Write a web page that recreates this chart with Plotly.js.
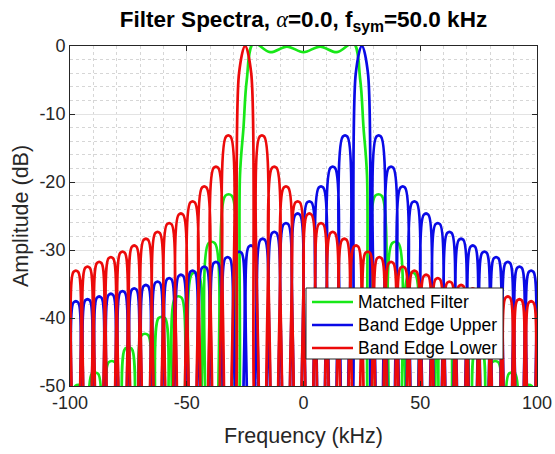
<!DOCTYPE html>
<html><head><meta charset="utf-8">
<script src="https://cdn.plot.ly/plotly-3.0.1.min.js"></script>
<style>html,body{margin:0;padding:0;background:#fff}#chart{width:555px;height:454px}</style>
</head><body><div id="chart"></div>
<script>
// ---- data (frequency in kHz, amplitude in dB) ----
// Band Edge Lower: side-lobe peaks, main-lobe outline, and where the curve drops below the -50 dB floor
const lowerLobeFreqs = [-97.5,-92.5,-87.5,-82.5,-77.5,-72.5,-67.5,-62.5,-57.5,-52.5,-47.5,-42.5,-37.5,-32.2,-17.8,-12.5,-7.5,-2.5,2.5,7.5,12.5,17.5,22.5,27.5,32.5,37.5,42.5,47.5,52.5,57.5,62.5,67.5,72.5,77.5,82.5,87.5,92.5,97.5];
const lowerLobeDb    = [-33.2,-32.6,-31.9,-31.2,-30.4,-29.5,-28.5,-27.5,-26.2,-24.8,-23.0,-20.8,-17.9,-13.3,-13.3,-17.9,-20.8,-23.0,-24.8,-26.2,-27.5,-28.5,-29.5,-30.4,-31.2,-31.9,-32.6,-33.2,-33.8,-34.3,-34.8,-35.3,-35.8,-36.2,-36.6,-37.0,-37.4,-37.7];
const lowerMainFreqs = [-27.6,-25,-22.4];
const lowerMainDb    = [-4.0,0,-4.0];
const lowerNullFreqs = [-100,-95,-90,-85,-80,-75,-70,-65,-60,-55,-50,-45,-40,-35,-30,-20,-15,-10,-5,0,5,10,15,20,25,30,35,40,45,50,55,60,65,70,75,80,85,90,95,100];

// Band Edge Upper
const upperLobeFreqs = [-97.5,-92.5,-87.5,-82.5,-77.5,-72.5,-67.5,-62.5,-57.5,-52.5,-47.5,-42.5,-37.5,-32.5,-27.5,-22.5,-17.5,-12.5,-7.5,-2.5,2.5,7.5,12.5,17.8,32.2,37.5,42.5,47.5,52.5,57.5,62.5,67.5,72.5,77.5,82.5,87.5,92.5,97.5];
const upperLobeDb    = [-37.7,-37.4,-37.0,-36.6,-36.2,-35.8,-35.3,-34.8,-34.3,-33.8,-33.2,-32.6,-31.9,-31.2,-30.4,-29.5,-28.5,-27.5,-26.2,-24.8,-23.0,-20.8,-17.9,-13.3,-13.3,-17.9,-20.8,-23.0,-24.8,-26.2,-27.5,-28.5,-29.5,-30.4,-31.2,-31.9,-32.6,-33.2];
const upperMainFreqs = [22.4,25,27.6];
const upperMainDb    = [-4.0,0,-4.0];
const upperNullFreqs = [-100,-95,-90,-85,-80,-75,-70,-65,-60,-55,-50,-45,-40,-35,-30,-25,-20,-15,-10,-5,0,5,10,15,20,30,35,40,45,50,55,60,65,70,75,80,85,90,95,100];

// Matched Filter: pass band (ripple and skirts), stop band side-lobe peaks, floor crossings
const matchedMainFreqs = [-27.2,-25.7,-24.3,-21.4,-14.3,-7.1,0,7.1,14.3,21.4,24.3,25.7,27.2];
const matchedMainDb    = [-19,-12,-5,0.4,-0.9,-0.1,-0.9,-0.1,-0.9,0.4,-5,-12,-19];
const matchedLobeFreqs = [-96.4,-89.3,-82.1,-75,-67.9,-60.7,-53.6,-46.4,-39.3,-32.1,32.1,39.3,46.4,53.6,60.7,67.9,75,82.1,89.3,96.4];
const matchedLobeDb    = [-50,-48.2,-46.5,-44.5,-42.5,-40,-37,-33.5,-29,-22,-22,-29,-33.5,-37,-40,-42.5,-44.5,-46.5,-48.2,-50];
const matchedNullFreqs = [-100,-92.9,-85.7,-78.6,-71.4,-64.3,-57.1,-50,-42.9,-35.7,-28.6,28.6,35.7,42.9,50,57.1,64.3,71.4,78.6,85.7,92.9,100];

const xTicks = [-100,-50,0,50,100];
const yTicks = [-50,-40,-30,-20,-10,0];
const legendNames = ['Matched Filter','Band Edge Upper','Band Edge Lower'];

// ---- drawing helpers (shape of the line only) ----
const FLOOR = -56, FOOT = 0.25;
function buildCurve(lobeF, lobeDb, halfTop, mainF, mainDb, nulls) {
  const pts = [];
  lobeF.forEach((f, i) => { pts.push([f - halfTop, lobeDb[i]]); pts.push([f + halfTop, lobeDb[i]]); });
  mainF.forEach((f, i) => pts.push([f, mainDb[i]]));
  nulls.forEach(f => { pts.push([f - FOOT, FLOOR]); pts.push([f + FOOT, FLOOR]); });
  pts.sort((a, b) => a[0] - b[0]);
  return {x: pts.map(p => p[0]), y: pts.map(p => p[1])};
}
const lower = buildCurve(lowerLobeFreqs, lowerLobeDb, 0.95, lowerMainFreqs, lowerMainDb, lowerNullFreqs);
const upper = buildCurve(upperLobeFreqs, upperLobeDb, 0.95, upperMainFreqs, upperMainDb, upperNullFreqs);
const matched = buildCurve(matchedLobeFreqs, matchedLobeDb, 1.35, matchedMainFreqs, matchedMainDb, matchedNullFreqs);

const COLORS = ['#18e818', '#0a0ae6', '#ec0a0a'];
const FONT = '"Liberation Sans", Arial, Helvetica, sans-serif';
const lineStyle = c => ({color: c, width: 2.7, shape: 'spline', smoothing: 1});
const traces = [
  {x: matched.x, y: matched.y, mode: 'lines', name: legendNames[0], line: lineStyle(COLORS[0])},
  {x: upper.x, y: upper.y, mode: 'lines', name: legendNames[1], line: lineStyle(COLORS[1])},
  {x: lower.x, y: lower.y, mode: 'lines', name: legendNames[2], line: lineStyle(COLORS[2])}
];

// legend box drawn in plot-paper coordinates (plot area 70..537 x 46..386 px)
const px = v => (v - 70) / 467, py = v => (386 - v) / 340;
const legRows = [302, 325, 348];
const shapes = [{type: 'rect', xref: 'paper', yref: 'paper', x0: px(306), x1: px(503), y0: py(359), y1: py(288),
  fillcolor: '#ffffff', line: {color: '#262626', width: 1}, layer: 'above'}];
const annotations = [];
legRows.forEach((r, i) => {
  shapes.push({type: 'line', xref: 'paper', yref: 'paper', x0: px(312), x1: px(353), y0: py(r), y1: py(r),
    line: {color: COLORS[i], width: 2.7}, layer: 'above'});
  annotations.push({xref: 'paper', yref: 'paper', x: px(356), y: py(r), xanchor: 'left', yanchor: 'middle',
    text: legendNames[i], showarrow: false, font: {family: FONT, size: 17.5, color: '#000000'}});
});

const axisCommon = {
  showline: true, linecolor: '#262626', linewidth: 1, mirror: 'ticks',
  ticks: 'inside', ticklen: 5, tickcolor: '#262626', tickwidth: 1,
  showgrid: true, gridcolor: '#e3e3e3', gridwidth: 1, zeroline: false,
  tickfont: {family: FONT, size: 18, color: '#262626'}
};
const layout = {
  width: 555, height: 454,
  margin: {l: 70, r: 18, t: 46, b: 68},
  paper_bgcolor: '#ffffff', plot_bgcolor: '#ffffff',
  font: {family: FONT, color: '#262626'},
  showlegend: false,
  title: {
    text: '<b>Filter Spectra, </b><span style="font-family:\'Liberation Serif\',serif"><i>α</i></span><b>=0.0, f<sub>sym</sub>=50.0 kHz</b>',
    font: {family: FONT, size: 22.5, color: '#000000'},
    x: 0.5, xref: 'paper', xanchor: 'center', y: 0.958, yref: 'container', yanchor: 'middle'
  },
  xaxis: Object.assign({}, axisCommon, {
    range: [-100, 100], tickvals: xTicks, ticktext: xTicks.map(String),
    minor: {dtick: 10, tick0: -100, showgrid: true, griddash: 'dot', gridcolor: '#d6d6d6', gridwidth: 1},
    title: {text: 'Frequency (kHz)', font: {family: FONT, size: 21.5, color: '#262626'}, standoff: 16}
  }),
  yaxis: Object.assign({}, axisCommon, {
    range: [-50, 0], tickvals: yTicks, ticktext: yTicks.map(String),
    minor: {dtick: 2, tick0: 0, showgrid: true, griddash: 'dot', gridcolor: '#d6d6d6', gridwidth: 1},
    title: {text: 'Amplitude (dB)', font: {family: FONT, size: 21.5, color: '#262626'}, standoff: 4}
  }),
  shapes: shapes,
  annotations: annotations
};
Plotly.newPlot('chart', traces, layout, {staticPlot: true, displayModeBar: false});
</script>
</body></html>
